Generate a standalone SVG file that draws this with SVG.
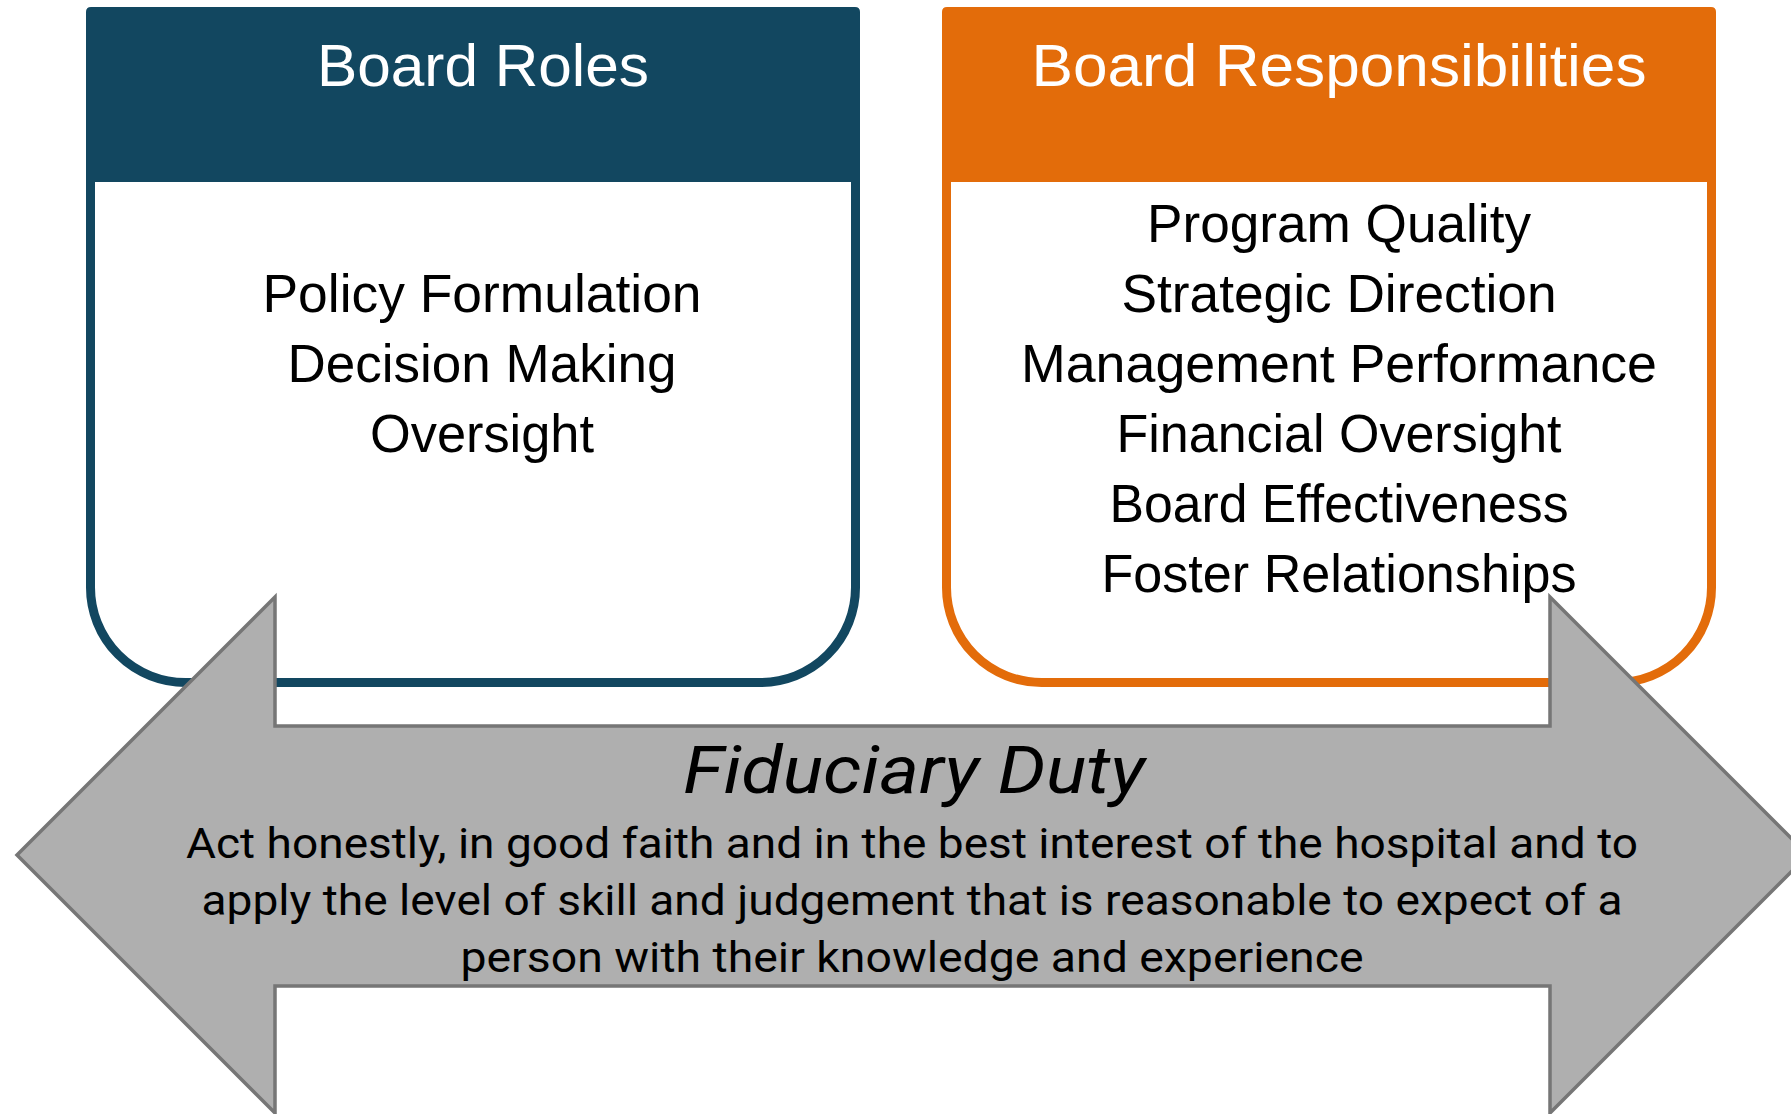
<svg xmlns="http://www.w3.org/2000/svg" width="1791" height="1114" viewBox="0 0 1791 1114">
  <style>
    .outline { fill: #ffffff; stroke-width: 9; }
    .roles .outline { stroke: #124760; }
    .roles .header { fill: #124760; }
    .resp .outline { stroke: #E36C0A; }
    .resp .header { fill: #E36C0A; }
    .title { font-family: "Liberation Sans", Arial, sans-serif; font-size: 60px; fill: #ffffff; text-anchor: middle; }
    .item { font-family: "Liberation Sans", Arial, sans-serif; font-size: 54px; fill: #000000; text-anchor: middle; }
    .arrow { fill: #AFAFAF; stroke: #767676; stroke-width: 3.5; stroke-linejoin: miter; }
    .duty { font-family: Roboto, "Liberation Sans", sans-serif; font-style: italic; font-size: 66px; fill: #000000; text-anchor: middle; }
    .duty-text { font-family: Roboto, "Liberation Sans", sans-serif; font-size: 43px; fill: #000000; text-anchor: middle; }
  </style>

  <rect width="1791" height="1114" fill="#ffffff"/>

  <!-- Board Roles card -->
  <g id="board-roles" class="roles">
    <path class="outline" d="M90.5 181 V587.5 A95 95 0 0 0 185.5 682.5 H760.5 A95 95 0 0 0 855.5 587.5 V181"/>
    <path class="header" d="M86 182 V12 Q86 7 91 7 H855 Q860 7 860 12 V182 Z"/>
    <text class="title" x="483" y="86" textLength="332" lengthAdjust="spacingAndGlyphs">Board Roles</text>
    <text class="item" x="482" y="312" textLength="439" lengthAdjust="spacingAndGlyphs">Policy Formulation</text>
    <text class="item" x="482" y="382" textLength="389" lengthAdjust="spacingAndGlyphs">Decision Making</text>
    <text class="item" x="482" y="452" textLength="224" lengthAdjust="spacingAndGlyphs">Oversight</text>
  </g>

  <!-- Board Responsibilities card -->
  <g id="board-responsibilities" class="resp">
    <path class="outline" d="M946.5 181 V587.5 A95 95 0 0 0 1041.5 682.5 H1616.5 A95 95 0 0 0 1711.5 587.5 V181"/>
    <path class="header" d="M942 182 V12 Q942 7 947 7 H1711 Q1716 7 1716 12 V182 Z"/>
    <text class="title" x="1339" y="86" textLength="615" lengthAdjust="spacingAndGlyphs">Board Responsibilities</text>
    <text class="item" x="1339" y="242" textLength="384" lengthAdjust="spacingAndGlyphs">Program Quality</text>
    <text class="item" x="1339" y="312" textLength="435" lengthAdjust="spacingAndGlyphs">Strategic Direction</text>
    <text class="item" x="1339" y="382" textLength="636" lengthAdjust="spacingAndGlyphs">Management Performance</text>
    <text class="item" x="1339" y="452" textLength="445" lengthAdjust="spacingAndGlyphs">Financial Oversight</text>
    <text class="item" x="1339" y="522" textLength="459" lengthAdjust="spacingAndGlyphs">Board Effectiveness</text>
    <text class="item" x="1339" y="592" textLength="475" lengthAdjust="spacingAndGlyphs">Foster Relationships</text>
  </g>

  <!-- Fiduciary Duty double-headed arrow -->
  <g id="fiduciary-duty">
    <path class="arrow" d="M17 855 L275 597 V726 H1550 V597 L1808 855 L1550 1113 V986 H275 V1113 Z"/>
    <text class="duty" x="914" y="793" textLength="462" lengthAdjust="spacingAndGlyphs">Fiduciary Duty</text>
    <text class="duty-text" x="912" y="858" textLength="1452" lengthAdjust="spacingAndGlyphs">Act honestly, in good faith and in the best interest of the hospital and to</text>
    <text class="duty-text" x="912" y="915" textLength="1421" lengthAdjust="spacingAndGlyphs">apply the level of skill and judgement that is reasonable to expect of a</text>
    <text class="duty-text" x="912" y="972" textLength="903" lengthAdjust="spacingAndGlyphs">person with their knowledge and experience</text>
  </g>

  <!-- the diagram has no separate connector lines -->
  <g id="connectors"></g>
</svg>
